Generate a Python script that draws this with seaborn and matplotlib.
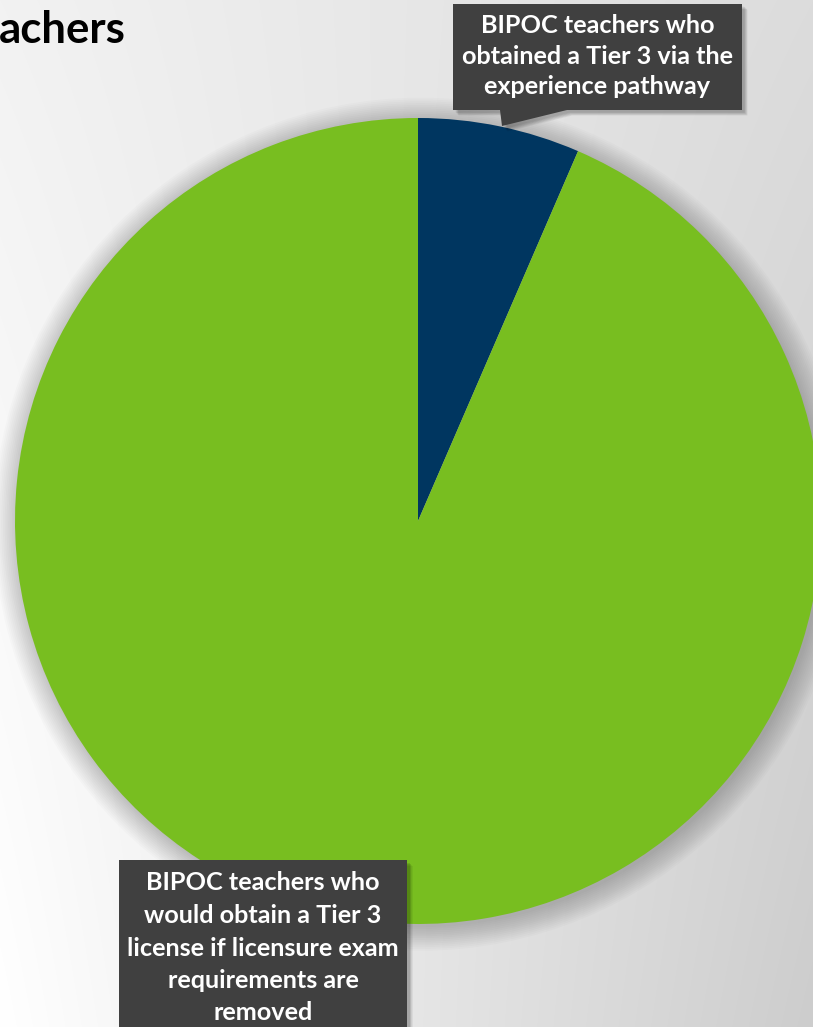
import numpy as np
import matplotlib
matplotlib.use("Agg")
import matplotlib.pyplot as plt
from matplotlib.patches import Circle, Polygon
import seaborn as sns

# --- data -------------------------------------------------------------
categories = [
    "BIPOC teachers who obtained a Tier 3 via the experience pathway",
    "BIPOC teachers who would obtain a Tier 3 license if licensure exam requirements are removed",
]
shares = [6.5, 93.5]
slice_colors = ["#003660", "#78BE20"]
label_top = "BIPOC teachers who\nobtained a Tier 3 via the\nexperience pathway"
label_bottom = ("BIPOC teachers who\nwould obtain a Tier 3\nlicense if licensure exam\n"
                "requirements are\nremoved")
title_text = "achers"

sns.set_theme(style="white")
plt.rcParams["font.family"] = ["Lato", "DejaVu Sans"]

W, H = 813, 1027
fig = plt.figure(figsize=(W / 100, H / 100), dpi=100)

# --- slide background: soft grey gradient -----------------------------
bg_ax = fig.add_axes([0, 0, 1, 1], zorder=0)
xx = np.linspace(0, 1, W)[None, :]
yy = np.linspace(0, 1, H)[:, None]
tl, tr, bl, br = 242, 220, 255, 205
grad = (tl * (1 - xx) * (1 - yy) + tr * xx * (1 - yy)
        + bl * (1 - xx) * yy + br * xx * yy) / 255.0
bg_ax.imshow(np.dstack([grad] * 3), aspect="auto", extent=(0, W, H, 0))
bg_ax.set_xlim(0, W)
bg_ax.set_ylim(H, 0)
bg_ax.axis("off")

# --- pie ----------------------------------------------------------------
cx, cy, R = 418, 521, 403
ax = fig.add_axes([(cx - R) / W, (H - cy - R) / H, 2 * R / W, 2 * R / H], zorder=1)
ax.patch.set_alpha(0)

# soft shadow under the pie
for i in range(14):
    ax.add_patch(Circle((0.006, -0.008), 1.0 + 0.0045 * i, color="black",
                        alpha=0.016, lw=0, clip_on=False))

wedges, _ = ax.pie(shares, colors=slice_colors, startangle=90, counterclock=False,
                   radius=1.0, wedgeprops=dict(linewidth=0))
for w in wedges:
    w.set_clip_on(False)
ax.set_xlim(-1, 1)
ax.set_ylim(-1, 1)
ax.axis("off")

# --- callouts (pixel overlay) ------------------------------------------
ov = fig.add_axes([0, 0, 1, 1], zorder=2)
ov.set_xlim(0, W)
ov.set_ylim(H, 0)
ov.patch.set_alpha(0)
ov.axis("off")

box_color = "#404040"


def shadowed(poly_pts):
    pts = np.asarray(poly_pts, dtype=float)
    for k in range(6):
        ov.add_patch(Polygon(pts + np.array([2.5 + 0.6 * k, 2.5 + 0.6 * k]),
                             closed=True, color="black", alpha=0.05, lw=0))
    ov.add_patch(Polygon(pts, closed=True, color=box_color, lw=0))


# top callout with pointer towards the small slice
top_box = [(453, 4), (742, 4), (742, 110), (567, 110), (502, 126), (500, 110), (453, 110)]
shadowed(top_box)
ov.text(597.5, 56, label_top, color="white", fontsize=18.2, fontweight="bold",
        ha="center", va="center", linespacing=1.40)

# bottom callout
bottom_box = [(119, 860), (407, 860), (407, 1040), (119, 1040)]
shadowed(bottom_box)
ov.text(263, 948, label_bottom, color="white", fontsize=18.2, fontweight="bold",
        ha="center", va="center", linespacing=1.50)

# slide title fragment
ov.text(-1, 43, title_text, color="black", fontsize=31.5, fontweight="bold",
        ha="left", va="baseline")

fig.savefig("out.png", dpi=100)
